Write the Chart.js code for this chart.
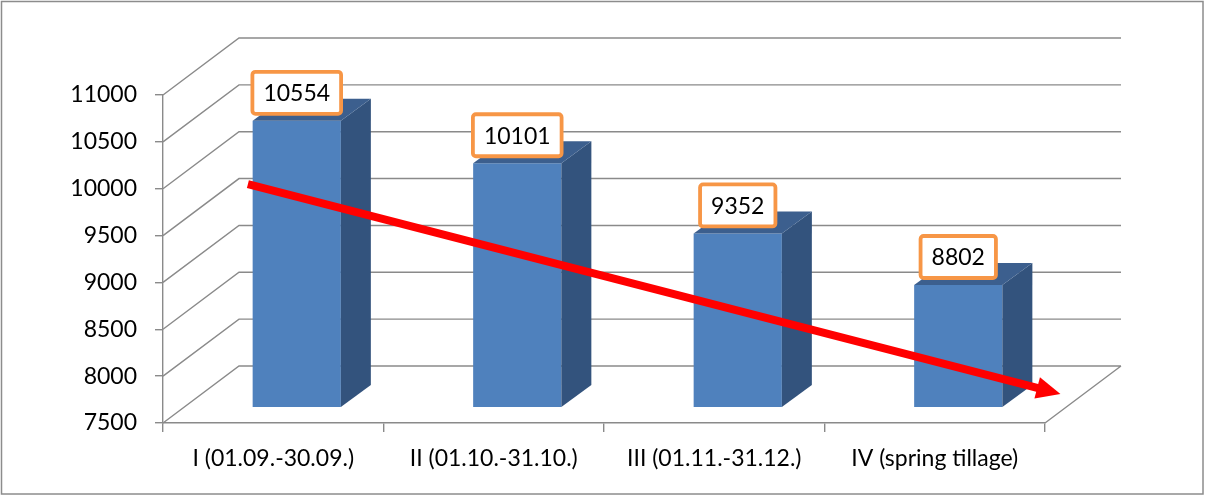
<!DOCTYPE html>
<html>
<head>
<meta charset="utf-8">
<script src="https://cdn.jsdelivr.net/npm/chart.js@4.4.1/dist/chart.umd.min.js"></script>
<style>
  html, body { margin: 0; padding: 0; background: #fff; }
  #wrap { width: 1205px; height: 496px; }
</style>
</head>
<body>
<div id="wrap"><canvas id="chart" width="1205" height="496"></canvas></div>
<script>
// periods and counts
const periods = ['I (01.09.-30.09.)', 'II (01.10.-31.10.)', 'III (01.11.-31.12.)', 'IV (spring tillage)']
const counts = [10554, 10101, 9352, 8802]
const yTicks = [7500, 8000, 8500, 9000, 9500, 10000, 10500, 11000]
// trend arrow ends, in (category index, value)
const trendFrom = [-0.115, 10050]
const trendTo = [3.57, 7810]

// pseudo 3d geometry
const WALL = { dx: 76, dy: -57 }
const BAR_SHIFT = { dx: 23.5, dy: -16 }
const BAR_DEPTH = { dx: 30, dy: -22 }

const FONT = 'Lato, "Liberation Sans", sans-serif'
const GRID = '#8a8a8a'

const depthPlugin = {
  id: 'depth',
  beforeDraw(chart) {
    const ctx = chart.ctx
    ctx.save()
    ctx.strokeStyle = '#8c8c8c'
    ctx.lineWidth = 1.5
    ctx.strokeRect(1.5, 1.5, 1201.5, 492.5)
    ctx.restore()
  },
  beforeDatasetsDraw(chart) {
    const { ctx, scales: { x, y } } = chart
    ctx.save()
    ctx.strokeStyle = GRID
    ctx.lineWidth = 1.4
    ctx.beginPath()
    yTicks.forEach(v => {
      const py = y.getPixelForValue(v)
      ctx.moveTo(x.left, py)
      ctx.lineTo(x.left + WALL.dx, py + WALL.dy)
      ctx.lineTo(x.right + WALL.dx, py + WALL.dy)
    })
    // right edge of the floor
    ctx.moveTo(x.right, y.bottom)
    ctx.lineTo(x.right + WALL.dx, y.bottom + WALL.dy)
    ctx.stroke()
    ctx.restore()

    ctx.save()
    ctx.translate(BAR_SHIFT.dx, BAR_SHIFT.dy)
  },
  afterDatasetsDraw(chart) {
    const { ctx, scales: { x, y } } = chart
    const meta = chart.getDatasetMeta(0)
    const floor = y.getPixelForValue(yTicks[0])
    meta.data.forEach(bar => {
      const l = bar.x - bar.width / 2
      const r = bar.x + bar.width / 2
      const t = bar.y
      const b = floor
      // side face
      ctx.fillStyle = '#33537d'
      ctx.beginPath()
      ctx.moveTo(r, t)
      ctx.lineTo(r + BAR_DEPTH.dx, t + BAR_DEPTH.dy)
      ctx.lineTo(r + BAR_DEPTH.dx, b + BAR_DEPTH.dy)
      ctx.lineTo(r, b)
      ctx.closePath()
      ctx.fill()
      // top face
      ctx.fillStyle = '#3c5f8e'
      ctx.beginPath()
      ctx.moveTo(l, t)
      ctx.lineTo(l + BAR_DEPTH.dx, t + BAR_DEPTH.dy)
      ctx.lineTo(r + BAR_DEPTH.dx, t + BAR_DEPTH.dy)
      ctx.lineTo(r, t)
      ctx.closePath()
      ctx.fill()
    })
    ctx.restore()

    // trend arrow
    const x0 = x.getPixelForValue(trendFrom[0])
    const y0 = y.getPixelForValue(trendFrom[1])
    const x1 = x.getPixelForValue(trendTo[0])
    const y1 = y.getPixelForValue(trendTo[1])
    const ang = Math.atan2(y1 - y0, x1 - x0)
    const headLen = 24, headHalf = 11
    const bx = x1 - Math.cos(ang) * headLen
    const by = y1 - Math.sin(ang) * headLen
    ctx.save()
    ctx.strokeStyle = '#ff0000'
    ctx.fillStyle = '#ff0000'
    ctx.lineWidth = 8
    ctx.beginPath()
    ctx.moveTo(x0, y0)
    ctx.lineTo(bx + Math.cos(ang) * 2, by + Math.sin(ang) * 2)
    ctx.stroke()
    ctx.beginPath()
    ctx.moveTo(x1, y1)
    ctx.lineTo(bx - Math.sin(ang) * headHalf, by + Math.cos(ang) * headHalf)
    ctx.lineTo(bx + Math.sin(ang) * headHalf, by - Math.cos(ang) * headHalf)
    ctx.closePath()
    ctx.fill()
    ctx.restore()

    // value boxes
    ctx.save()
    ctx.font = '23px ' + FONT
    ctx.textAlign = 'center'
    ctx.textBaseline = 'middle'
    meta.data.forEach((bar, i) => {
      const text = String(counts[i])
      const w = ctx.measureText(text).width + 22
      const h = 42
      const cx = bar.x + BAR_SHIFT.dx
      const bottom = bar.y + BAR_SHIFT.dy - 7
      const top = bottom - h
      ctx.fillStyle = '#ffffff'
      ctx.strokeStyle = '#f79646'
      ctx.lineWidth = 3.8
      ctx.beginPath()
      ctx.roundRect(cx - w / 2, top, w, h, 3)
      ctx.fill()
      ctx.stroke()
      ctx.fillStyle = '#000000'
      ctx.fillText(text, cx, top + h / 2 + 1)
    })
    ctx.restore()
  }
}

new Chart(document.getElementById('chart'), {
  type: 'bar',
  data: {
    labels: periods,
    datasets: [{
      data: counts,
      backgroundColor: '#4f81bd',
      borderWidth: 0,
      barPercentage: 0.4,
      categoryPercentage: 1
    }]
  },
  options: {
    responsive: false,
    animation: false,
    layout: { padding: { top: 95, right: 160, left: 0, bottom: 0 } },
    plugins: { legend: { display: false }, tooltip: { enabled: false } },
    scales: {
      x: {
        afterFit(s) { s.height = 73 },
        grid: { offset: true, drawOnChartArea: false, color: GRID, tickLength: 9, lineWidth: 1.4 },
        border: { color: GRID, width: 1.4 },
        ticks: { color: '#000', font: { family: FONT, size: 23 }, padding: 13, maxRotation: 0, autoSkip: false }
      },
      y: {
        min: 7500,
        max: 11000,
        afterFit(s) { s.width = 163 },
        afterBuildTicks(s) { s.ticks = yTicks.map(v => ({ value: v })) },
        grid: { drawOnChartArea: false, color: GRID, tickLength: 8, lineWidth: 1.4 },
        border: { color: GRID, width: 1.4 },
        ticks: {
          color: '#000',
          font: { family: FONT, size: 23 },
          padding: 18,
          callback: v => String(v)
        }
      }
    }
  },
  plugins: [depthPlugin]
})
</script>
</body>
</html>
